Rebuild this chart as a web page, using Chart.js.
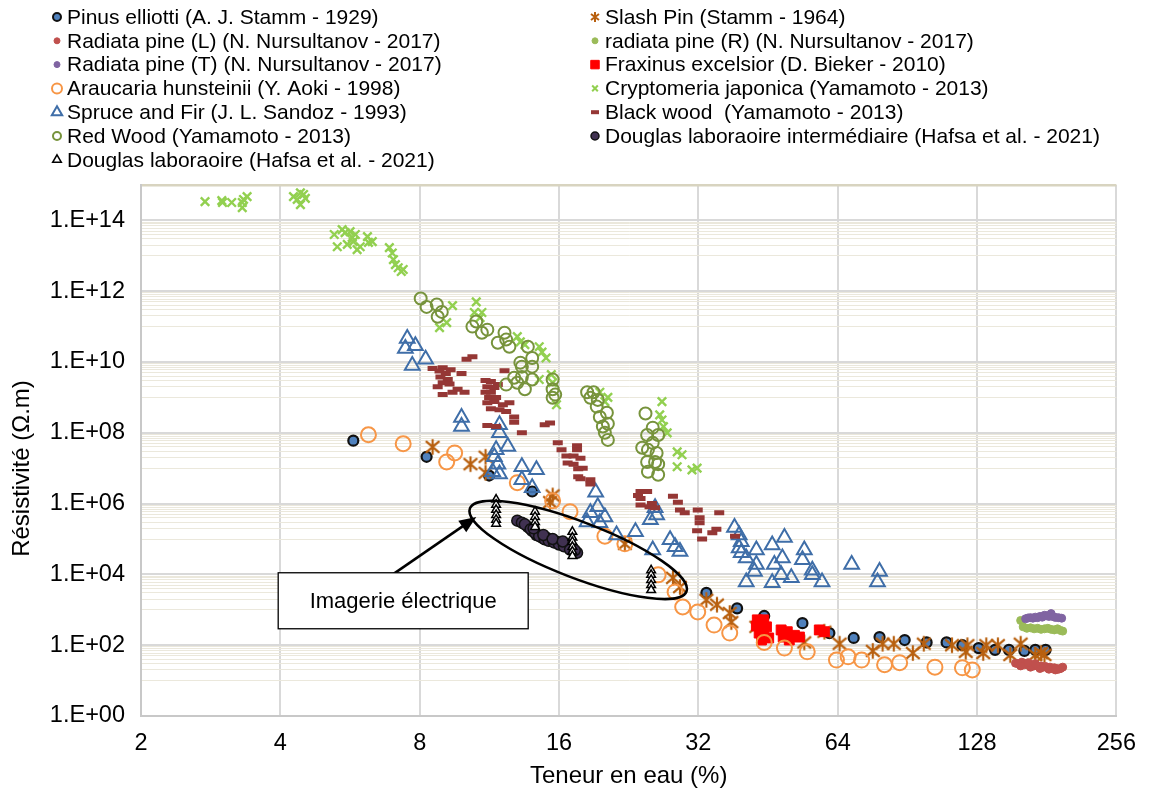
<!DOCTYPE html>
<html>
<head>
<meta charset="utf-8">
<script src="https://cdn.jsdelivr.net/npm/chart.js@4.4.1/dist/chart.umd.min.js"></script>
<style>
  html, body { margin: 0; background: #fff; }
  #wrap { width: 1149px; height: 794px; position: relative; }
</style>
</head>
<body>
<div id="wrap"><canvas id="chart"></canvas></div>
<script>
// ---------- data : [teneur en eau (%), résistivité (ohm.m)] ----------

const xTicks = [2, 4, 8, 16, 32, 64, 128, 256];
const yMajor = [1, 1e2, 1e4, 1e6, 1e8, 1e10, 1e12, 1e14];
const yTickLabels = ['1.E+00', '1.E+02', '1.E+04', '1.E+06', '1.E+08', '1.E+10', '1.E+12', '1.E+14'];

const pinusElliotti = [
  [5.75, 6.0e7], [8.28, 2.1e7], [11.3, 6.2e6], [14.0, 2.2e6], [33.3, 3.0e3], [38.8, 1.1e3],
  [44.4, 6.7e2], [53.7, 4.2e2], [61.4, 2.2e2], [69.3, 1.6e2], [78.8, 1.7e2], [89.3, 1.4e2],
  [99.6, 1.2e2], [110, 1.2e2], [119, 1.0e2], [129, 83], [140, 74], [150, 74], [162, 69],
  [171, 74], [180, 74]
];

const slashPin = [
  [8.53, 4.0e7], [10.3, 1.3e7], [11.1, 2.1e7], [11.1, 7.4e6], [15.5, 1.7e6], [15.3, 1.1e6],
  [22.2, 7.3e4], [28.2, 8.0e3], [29.2, 4.4e3], [33.3, 1.9e3], [35.1, 1.4e3], [37.4, 8.1e2],
  [37.7, 4.5e2], [42.7, 3.3e2], [54.2, 1.2e2], [59.9, 2.4e2], [64.6, 1.1e2], [76.2, 69],
  [80.0, 1.1e2], [84.6, 1.1e2], [93.0, 60], [98.2, 1.1e2], [113, 1.0e2], [121, 65],
  [122, 1.0e2], [132, 60], [134, 1.0e2], [142, 1.0e2], [151, 53], [159, 1.1e2], [171, 53],
  [176, 60], [179, 53]
];

const radiataL = [
  [155, 31], [157, 30], [159, 29], [160, 33], [162, 28], [164, 29], [166, 27], [168, 28],
  [170, 26], [172, 27], [174, 25], [176, 26], [178, 24], [180, 25], [182, 23], [184, 24],
  [186, 22], [188, 23], [190, 22], [192, 21], [194, 22], [196, 24], [159, 26], [167, 24],
  [175, 22], [183, 21], [189, 20], [165, 32], [171, 30]
];

const radiataR = [
  [159, 500], [161, 330], [164, 300], [167, 310], [170, 290], [173, 300], [176, 280],
  [179, 290], [182, 300], [185, 280], [188, 270], [191, 290], [194, 260], [196, 250]
];

const radiataT = [
  [163, 560], [165, 590], [167, 600], [169, 580], [171, 620], [173, 600], [175, 650],
  [177, 620], [179, 700], [181, 680], [183, 650], [185, 780], [187, 640], [189, 610],
  [192, 600], [195, 580]
];

const fraxinus = [
  [42.9, 5.2e2], [44.3, 5.2e2], [43.3, 3.5e2], [44.9, 3.3e2], [43.3, 2.2e2], [44.3, 2.2e2],
  [43.8, 1.4e2], [45.4, 1.6e2], [42.7, 3.5e2], [48.3, 2.7e2], [49.8, 2.4e2], [51.6, 1.9e2],
  [52.9, 1.7e2], [48.8, 1.7e2], [50.3, 1.4e2], [58.4, 2.7e2], [59.9, 2.4e2]
];

const araucaria = [
  [6.2, 8.8e7], [7.37, 4.9e7], [9.52, 2.7e7], [9.15, 1.5e7], [13.0, 3.9e6], [15.5, 1.2e6],
  [16.9, 5.9e5], [20.1, 1.2e5], [22.2, 7.3e4], [26.2, 9.7e3], [28.5, 3.2e3], [29.6, 1.2e3],
  [31.9, 8.7e2], [34.6, 3.7e2], [37.4, 2.2e2], [44.4, 1.2e2], [49.1, 83], [55.0, 65],
  [63.6, 38], [67.4, 47], [72.1, 38], [80.8, 28], [87.1, 32], [103.8, 24], [119, 23], [125, 20]
];

const cryptomeria = [
  [2.75, 3.4e14], [2.99, 3.6e14], [3.0, 3.2e14], [3.14, 3.2e14], [3.31, 2.3e14], [3.33, 3.9e14],
  [3.39, 4.7e14], [3.31, 3.2e14], [4.27, 4.7e14], [4.35, 3.9e14], [4.42, 2.8e14], [4.49, 5.4e14],
  [4.53, 4.2e14], [4.42, 6.0e14],
  [5.23, 4.0e13], [5.31, 1.8e13], [5.44, 5.5e13], [5.52, 4.5e13], [5.58, 2.1e13], [5.66, 4.8e13],
  [5.72, 3.3e13], [5.75, 2.5e13], [5.81, 4.0e13], [5.86, 1.5e13], [5.95, 1.8e13], [6.17, 3.5e13],
  [6.20, 2.4e13], [6.32, 2.5e13],
  [6.88, 1.7e13], [6.98, 1.2e13], [7.02, 7.8e12], [7.09, 5.6e12], [7.19, 4.6e12], [7.30, 3.6e12],
  [7.37, 4.1e12],
  [8.83, 9.3e10], [9.15, 1.3e11], [9.42, 3.9e11], [10.6, 5.0e11], [10.5, 2.5e11], [10.9, 2.5e11],
  [10.8, 1.8e11], [13.0, 5.2e10], [13.2, 3.7e10], [13.5, 3.1e10], [14.5, 2.7e10], [14.7, 1.9e10],
  [15.0, 1.3e10], [15.4, 4.4e9], [14.5, 3.2e9], [15.5, 2.6e9], [15.8, 6.2e8], [19.6, 1.4e9],
  [20.4, 1.0e9], [20.1, 7.6e8], [26.7, 7.6e8], [26.4, 3.2e8], [26.7, 2.3e8], [26.9, 1.5e8],
  [27.4, 1.0e8], [28.8, 2.9e7], [29.5, 2.4e7], [28.8, 1.1e7], [31.0, 9e6], [31.8, 1.0e7]
];

const spruceFir = [
  [7.52, 4.6e10], [7.83, 2.9e10], [7.45, 2.4e10], [7.71, 7.9e9], [8.24, 1.2e10], [9.85, 2.7e8],
  [9.85, 1.5e8], [11.9, 1.7e8], [11.9, 1.0e8], [12.4, 4.1e7], [11.7, 3.3e7], [11.6, 2.1e7],
  [11.8, 1.3e7], [11.5, 7.9e6], [11.9, 6.9e6], [13.3, 1.1e7], [14.3, 9e6], [13.3, 4.7e6],
  [14.0, 2.8e6], [19.2, 2.1e6], [19.4, 8.1e5], [18.7, 5.5e5], [20.1, 4.2e5], [18.4, 3.0e5],
  [19.6, 2.9e5], [21.3, 1.3e5], [23.4, 1.6e5], [25.5, 4.9e4], [25.8, 7.6e5], [25.2, 3.5e5],
  [26.0, 4.8e5], [27.8, 9.5e4], [28.5, 6.0e4], [29.2, 4.4e4], [38.3, 2.1e5], [39.2, 1.3e5],
  [39.6, 8.3e4], [39.2, 5.6e4], [39.6, 4.1e4], [40.6, 2.9e4], [42.7, 4.9e4], [42.7, 1.9e4],
  [40.6, 6.1e3], [42.3, 1.2e4], [46.2, 6.8e4], [49.1, 1.1e5], [46.7, 1.9e4], [48.6, 2.9e4],
  [48.3, 9.7e3], [50.8, 8.0e3], [46.2, 5.8e3], [54.2, 4.9e4], [53.7, 2.6e4], [56.4, 1.3e4],
  [56.4, 9.7e3], [59.2, 6.1e3], [68.6, 1.9e4], [78.8, 1.2e4], [78.0, 6.1e3]
];

const blackWood = [
  [10.1, 1.2e10], [10.4, 1.4e10], [8.53, 6.5e9], [8.97, 6.9e9], [8.83, 5.6e9], [9.11, 4.7e9],
  [8.87, 3.8e9], [9.2, 3.2e9], [8.97, 2.6e9], [9.33, 6.0e9], [9.28, 2.4e9], [9.85, 4.7e9],
  [8.75, 2.0e9], [8.97, 1.2e9], [9.42, 1.4e9], [9.66, 1.7e9], [10.0, 1.4e9], [12.2, 5.7e9],
  [11.1, 3.0e9], [11.4, 2.8e9], [11.2, 2.0e9], [11.6, 1.9e9], [11.1, 1.4e9], [11.4, 1.4e9],
  [11.8, 2.3e9], [11.3, 1.0e9], [11.7, 1.0e9], [11.2, 7.1e8], [11.6, 7.6e8], [12.1, 6.2e8],
  [12.5, 7.1e8], [11.4, 4.8e8], [11.9, 4.5e8], [12.3, 4.0e8], [12.8, 2.8e8], [12.8, 2.0e8],
  [11.2, 1.6e8], [11.7, 1.5e8], [14.9, 1.7e8], [15.3, 1.9e8], [13.3, 1.0e8], [15.9, 5.2e7],
  [16.2, 3.3e7], [16.6, 2.2e7], [17.2, 2.2e7], [17.5, 4.3e7], [17.5, 3.3e7], [17.8, 1.9e7],
  [16.7, 1.4e7], [17.2, 1.3e7], [17.6, 9.6e6], [18.0, 1.0e7], [17.6, 5.7e6], [17.8, 5.0e6],
  [18.7, 4.7e6], [18.7, 3.6e6], [24.0, 2.2e6], [24.8, 2.2e6], [23.7, 1.7e6], [24.0, 1.4e6],
  [24.0, 9.2e5], [25.4, 1.0e6], [25.1, 8.1e5], [25.8, 7.6e5], [28.2, 1.6e6], [28.9, 1.1e6],
  [29.2, 6.6e5], [29.9, 5.5e5], [31.9, 6.6e5], [32.2, 4.0e5], [32.2, 2.9e5], [31.8, 1.7e5],
  [32.6, 1.0e5], [35.0, 1.9e5], [35.5, 5.5e5], [34.3, 1.5e5], [38.4, 1.2e5]
];

const redWood = [
  [8.04, 6.2e11], [8.28, 3.6e11], [8.71, 4.2e11], [8.93, 2.6e11], [8.75, 1.9e11], [10.4, 1.0e11],
  [10.6, 1.4e11], [10.9, 6.7e10], [11.2, 8.2e10], [11.8, 3.5e10], [12.2, 6.7e10], [12.3, 4.3e10],
  [12.5, 2.7e10], [13.7, 2.7e10], [13.2, 9.6e9], [13.3, 7.4e9], [14.0, 1.3e10], [14.0, 7.4e9],
  [12.3, 2.3e9], [12.8, 3.6e9], [13.0, 2.6e9], [13.3, 3.8e9], [13.5, 1.7e9], [14.0, 3.2e9],
  [15.5, 3.2e9], [15.5, 1.7e9], [15.7, 1.2e9], [15.5, 9.8e8], [18.4, 1.4e9], [19.0, 1.4e9],
  [18.7, 9.8e8], [19.4, 8.5e8], [19.3, 5.5e8], [19.6, 2.8e8], [20.3, 3.7e8], [19.9, 1.5e8],
  [20.4, 1.8e8], [20.1, 1.0e8], [20.4, 6.3e7], [24.6, 3.5e8], [25.5, 1.4e8], [24.8, 8.7e7],
  [26.2, 8.7e7], [24.2, 3.8e7], [24.9, 3.3e7], [25.5, 5.2e7], [26.0, 2.7e7], [24.8, 1.5e7],
  [25.8, 1.5e7], [26.2, 1.3e7], [24.9, 7.9e6], [26.2, 6.5e6]
];

const douglasInter = [
  [13.0, 3.3e5], [13.3, 2.9e5], [13.7, 2.2e5], [14.0, 1.7e5], [14.3, 1.3e5], [14.7, 1.1e5],
  [15.0, 1.1e5], [15.4, 9.5e4], [15.8, 8.3e4], [16.2, 7.8e4], [16.6, 6.8e4], [17.1, 5.6e4],
  [17.5, 4.1e4], [13.5, 2.6e5], [13.9, 1.9e5], [14.2, 1.5e5], [14.5, 1.2e5], [14.9, 9.8e4],
  [15.2, 8.9e4], [15.6, 8.0e4], [16.0, 7.0e4], [16.4, 6.2e4], [16.9, 5.0e4], [14.1, 2.0e5],
  [14.8, 1.3e5], [15.5, 1.0e5], [16.3, 8.5e4], [17.3, 4.8e4]
];

const douglasLabo = [
  [11.7, 1.3e6], [11.7, 9.3e5], [11.7, 6.7e5], [11.7, 4.8e5], [11.7, 3.5e5], [11.7, 2.7e5],
  [14.2, 5.9e5], [14.2, 4.2e5], [14.2, 3.0e5], [14.2, 2.2e5], [17.1, 1.6e5], [17.1, 1.1e5],
  [17.1, 8.3e4], [17.1, 6.0e4], [17.1, 4.4e4], [17.1, 3.3e4], [25.3, 1.3e4], [25.3, 9.7e3],
  [25.3, 7.0e3], [25.3, 5.0e3], [25.3, 3.6e3]
];

// annotation anchors (data space)
const noteText = 'Imagerie électrique';
const noteBox = [7.37, 1.8e3];
const noteTail = [7.0, 1.0e4];
const noteTip = [10.6, 4.2e5];
const noteEllipse = [17.6, 4.9e4];

// =========================
// STYLES
// =========================

const FONT = "'Liberation Sans', Arial, sans-serif";

function starMarker(size, color, lw){
  const c = document.createElement('canvas');
  c.width = c.height = size;
  const g = c.getContext('2d');
  g.strokeStyle = color;
  g.lineWidth = lw;
  const m = lw, s = size - lw;
  g.beginPath();
  g.moveTo(m, m + 1); g.lineTo(s, s - 1);
  g.moveTo(s, m + 1); g.lineTo(m, s - 1);
  g.moveTo(size / 2, m - 1); g.lineTo(size / 2, s + 1);
  g.stroke();
  return c;
}

const STAR_COL = '#b8600f';
const starBig = starMarker(18, STAR_COL, 2.2);
const starSmall = starMarker(12, STAR_COL, 2);

const NONE = 'rgba(0,0,0,0)';

const series = [
  {label: 'Pinus elliotti (A. J. Stamm - 1929)', data: pinusElliotti,
   pointStyle: 'circle', radius: 5, bg: '#4f81bd', border: '#111', bw: 2.2, lr: 4},
  {label: 'Slash Pin (Stamm - 1964)', data: slashPin,
   pointStyle: starBig, legendStyle: starSmall, radius: 8, bg: NONE, border: STAR_COL, bw: 2},
  {label: 'Radiata pine (L) (N. Nursultanov - 2017)', data: radiataL,
   pointStyle: 'circle', radius: 4, bg: '#c0504d', border: '#c0504d', bw: 1, lr: 3},
  {label: 'radiata pine (R) (N. Nursultanov - 2017)', data: radiataR,
   pointStyle: 'circle', radius: 4, bg: '#9bbb59', border: '#9bbb59', bw: 1, lr: 3},
  {label: 'Radiata pine (T) (N. Nursultanov - 2017)', data: radiataT,
   pointStyle: 'circle', radius: 4, bg: '#8064a2', border: '#8064a2', bw: 1, lr: 3},
  {label: 'Fraxinus excelsior (D. Bieker - 2010)', data: fraxinus,
   pointStyle: 'rect', radius: 7, bg: '#ff0000', border: '#ff0000', bw: 1, lr: 6},
  {label: 'Araucaria hunsteinii (Y. Aoki - 1998)', data: araucaria,
   pointStyle: 'circle', radius: 7.5, bg: NONE, border: '#f79646', bw: 2, lr: 5},
  {label: 'Cryptomeria japonica (Yamamoto - 2013)', data: cryptomeria,
   pointStyle: 'crossRot', radius: 6, bg: NONE, border: '#92d050', bw: 2.4, lr: 4},
  {label: 'Spruce and Fir (J. L. Sandoz - 1993)', data: spruceFir,
   pointStyle: 'triangle', radius: 8.5, bg: NONE, border: '#3f6ea8', bw: 2, lr: 6},
  {label: 'Black wood  (Yamamoto - 2013)', data: blackWood,
   pointStyle: 'line', radius: 5, bg: NONE, border: '#953735', bw: 5, lr: 4},
  {label: 'Red Wood (Yamamoto - 2013)', data: redWood,
   pointStyle: 'circle', radius: 6, bg: NONE, border: '#77933c', bw: 2, lr: 4},
  {label: 'Douglas laboraoire intermédiaire (Hafsa et al. - 2021)', data: douglasInter,
   pointStyle: 'circle', radius: 5.5, bg: '#403151', border: '#111', bw: 1.5, lr: 4},
  {label: 'Douglas laboraoire (Hafsa et al. - 2021)', data: douglasLabo,
   pointStyle: 'triangle', radius: 5, bg: '#fff', border: '#000', bw: 1.5, lr: 5}
];

// y grid : major every 2 decades, minor at n x 10^(2k+1)
const yGrid = [];
for(let k = 0; k < 8; k++){
  yGrid.push(yMajor[k]);
  const b = Math.pow(10, 2*k + 1);
  for(let n = 1; n <= 9; n++){
    if(b*n <= 1e15) yGrid.push(b*n);
  }
}

const isMajor = v => yMajor.some(m => Math.abs(Math.log10(v) - Math.log10(m)) < 1e-6);

// =========================
// PLUGINS
// =========================

const legendPlugin = {
  id: 'twoColLegend',
  afterDraw(chart){
    const ctx = chart.ctx;
    ctx.save();
    ctx.font = '21px ' + FONT;
    ctx.textBaseline = 'middle';
    series.forEach((s, i) => {
      const col = i % 2, row = Math.floor(i / 2);
      const mx = col ? 595 : 57;
      const y = 17 + row * 23.8;
      ctx.fillStyle = s.bg;
      ctx.strokeStyle = s.border;
      ctx.lineWidth = s.pointStyle === 'line' ? 4 : Math.min(s.bw, 2);
      Chart.helpers.drawPoint(ctx, {
        pointStyle: s.legendStyle || s.pointStyle,
        radius: s.lr || 4,
        rotation: 0,
        borderWidth: s.bw
      }, mx, y);
      ctx.fillStyle = '#000';
      ctx.fillText(s.label, mx + 10, y + 1);
    });
    ctx.restore();
  }
};

// y axis title, drawn by hand to sit a little under the plot middle
const yTitlePlugin = {
  id: 'yTitle',
  afterDraw(chart){
    const ctx = chart.ctx;
    const a = chart.chartArea;
    ctx.save();
    ctx.translate(22, (a.top + a.bottom) / 2 + 18);
    ctx.rotate(-Math.PI / 2);
    ctx.font = '24px ' + FONT;
    ctx.fillStyle = '#000';
    ctx.textAlign = 'center';
    ctx.textBaseline = 'middle';
    ctx.fillText('Résistivité (Ω.m)', 0, 0);
    ctx.restore();
  }
};

const notePlugin = {
  id: 'note',
  afterDatasetsDraw(chart){
    const ctx = chart.ctx;
    const sx = chart.scales.x, sy = chart.scales.y;
    const px = p => [sx.getPixelForValue(p[0]), sy.getPixelForValue(p[1])];
    ctx.save();
    ctx.strokeStyle = '#000';
    ctx.fillStyle = '#000';

    // ellipse
    const [ex, ey] = px(noteEllipse);
    ctx.lineWidth = 2.5;
    ctx.beginPath();
    ctx.ellipse(ex, ey, 116, 28, 21 * Math.PI / 180, 0, Math.PI * 2);
    ctx.stroke();

    // arrow
    const [tx, ty] = px(noteTail);
    const [hx, hy] = px(noteTip);
    const ang = Math.atan2(hy - ty, hx - tx);
    const hl = 17, hw = 7;
    ctx.beginPath();
    ctx.moveTo(tx, ty);
    ctx.lineTo(hx - Math.cos(ang) * hl * 0.8, hy - Math.sin(ang) * hl * 0.8);
    ctx.stroke();
    ctx.beginPath();
    ctx.moveTo(hx, hy);
    ctx.lineTo(hx - Math.cos(ang) * hl - Math.sin(ang) * hw, hy - Math.sin(ang) * hl + Math.cos(ang) * hw);
    ctx.lineTo(hx - Math.cos(ang) * hl + Math.sin(ang) * hw, hy - Math.sin(ang) * hl - Math.cos(ang) * hw);
    ctx.closePath();
    ctx.fill();

    // text box
    const [bx, by] = px(noteBox);
    const bw = 250, bh = 56;
    ctx.fillStyle = '#fff';
    ctx.fillRect(bx - bw/2, by - bh/2, bw, bh);
    ctx.lineWidth = 1.3;
    ctx.strokeRect(bx - bw/2, by - bh/2, bw, bh);
    ctx.fillStyle = '#000';
    ctx.font = '22px ' + FONT;
    ctx.textAlign = 'center';
    ctx.textBaseline = 'middle';
    ctx.fillText(noteText, bx, by + 1);
    ctx.restore();
  }
};

// =========================
// CHART
// =========================

const datasets = series.map((s, i) => ({
  label: s.label,
  data: s.data.map(([x, y]) => ({x, y})),
  pointStyle: s.pointStyle,
  pointRadius: s.radius,
  pointBackgroundColor: s.bg,
  pointBorderColor: s.border,
  pointBorderWidth: s.bw,
  showLine: false,
  order: series.length - i
}));

new Chart(document.getElementById('chart'), {
  type: 'scatter',
  data: { datasets },
  options: {
    responsive: true,
    maintainAspectRatio: false,
    animation: false,
    events: [],
    layout: { padding: { top: 185, right: 32, left: 0, bottom: 0 } },
    plugins: {
      legend: { display: false },
      tooltip: { enabled: false }
    },
    scales: {
      x: {
        type: 'logarithmic',
        min: 2, max: 256,
        afterBuildTicks: s => { s.ticks = xTicks.map(v => ({value: v})); },
        afterFit: s => { s.height = 78; },
        ticks: {
          autoSkip: false, maxRotation: 0, padding: 13, color: '#000',
          font: { family: FONT, size: 23.5 },
          callback: v => String(v)
        },
        grid: { color: '#d9d9d9', lineWidth: 2, drawTicks: false },
        border: { color: '#c8c8c8', width: 2 },
        title: {
          display: true, text: 'Teneur en eau (%)', color: '#000',
          font: { family: FONT, size: 24 }, padding: { top: 0, bottom: 3 }
        }
      },
      y: {
        type: 'logarithmic',
        min: 1, max: 1e15,
        afterBuildTicks: s => { s.ticks = yGrid.map(v => ({value: v})); },
        afterFit: s => { s.width = 141; },
        ticks: {
          autoSkip: false, padding: 16, color: '#000',
          font: { family: FONT, size: 23.5 },
          callback: v => {
            const i = yMajor.findIndex(m => Math.abs(Math.log10(v) - Math.log10(m)) < 1e-6);
            return i >= 0 ? yTickLabels[i] : '';
          }
        },
        grid: {
          drawTicks: false,
          color: c => {
            const v = c.tick.value;
            if(v >= 1e15) return '#d8d4c0';
            return isMajor(v) ? '#d9d9d9' : '#ebe8dc';
          },
          lineWidth: c => {
            const v = c.tick.value;
            if(v >= 1e15) return 2.5;
            return isMajor(v) ? 2 : 1;
          }
        },
        border: { color: '#c8c8c8', width: 2 },
        title: { display: false }
      }
    }
  },
  plugins: [notePlugin, legendPlugin, yTitlePlugin]
});
</script>
</body>
</html>
